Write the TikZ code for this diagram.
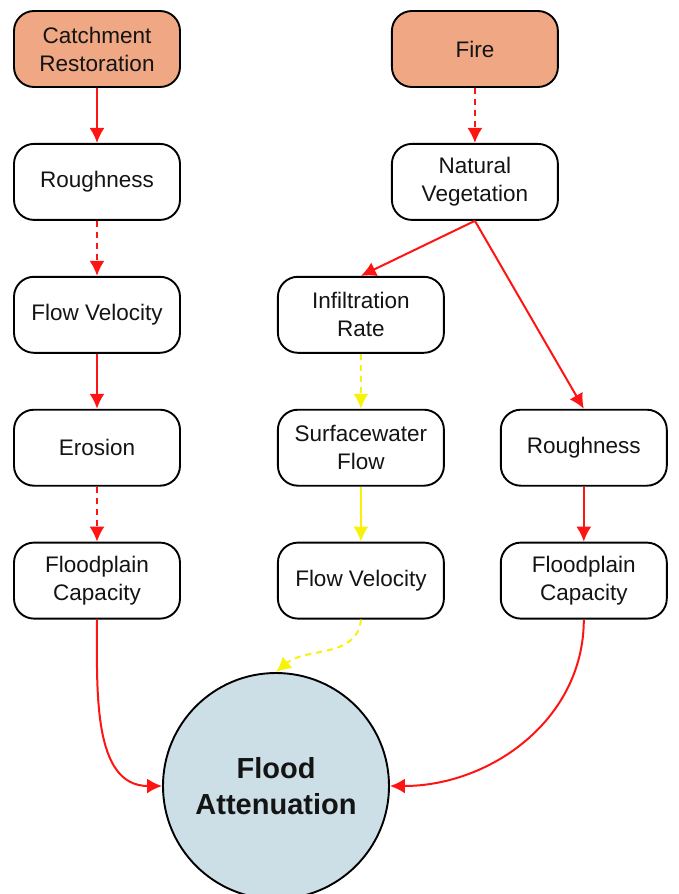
\documentclass[tikz,border=0pt]{standalone}
\usepackage{fontspec}
\setmainfont{Liberation Sans}
\usetikzlibrary{positioning,arrows.meta,shapes}
\definecolor{causefill}{HTML}{F0A784}
\definecolor{floodfill}{HTML}{CCDFE7}
\definecolor{linkred}{HTML}{FF1414}
\definecolor{linkyellow}{HTML}{F7F20A}
\tikzset{
	every node/.style = {font=\fontsize{22.5}{28}\selectfont, align=center, text=black!92},
	factor/.style = {draw, rounded corners=20pt, line width=1.9pt, minimum width=166pt, minimum height=76pt, inner sep=3, fill=white},
	driver/.style = {factor, fill=causefill},
	redlink/.style = {->, draw=linkred, line width=2pt},
	redhint/.style = {redlink, dash pattern=on 6pt off 5pt},
	yellowlink/.style = {->, draw=linkyellow, line width=2pt},
	yellowhint/.style = {yellowlink, dash pattern=on 6pt off 5pt},
	>={Latex[length=15pt,width=15pt]}
}

\begin{document}
\begin{tikzpicture}[x=1pt, y=-1pt, node distance=55pt]
		\useasboundingbox (0,0) rectangle (678,894);
		% left chain
		\node[driver] (restore) at (97,49) {Catchment\\Restoration};
		\node[factor, below=of restore] (roughL) {Roughness};
		\node[factor, below=of roughL] (flowL) {Flow Velocity};
		\node[factor, below=of flowL] (erosion) {Erosion};
		\node[factor, below=of erosion] (capL) {Floodplain\\Capacity};
		% fire chain
		\node[driver, right=210pt of restore] (fire) {Fire};
		\node[factor, below=of fire] (natveg) {Natural\\Vegetation};
		\node[factor, right=96pt of flowL] (infil) {Infiltration\\Rate};
		\node[factor, below=of infil] (surface) {Surfacewater\\Flow};
		\node[factor, below=of surface] (flowM) {Flow Velocity};
		\node[factor, right=55pt of surface] (roughR) {Roughness};
		\node[factor, below=of roughR] (capR) {Floodplain\\Capacity};
		% outcome
		\node[circle, draw, line width=1.9pt, fill=floodfill, minimum size=226pt, font=\fontsize{29}{36}\selectfont\bfseries] (flood) at (276,786) {Flood\\Attenuation};

		\draw[redlink] (restore) -- (roughL);
		\draw[redhint] (roughL) -- (flowL);
		\draw[redlink] (flowL) -- (erosion);
		\draw[redhint] (erosion) -- (capL);
		\draw[redlink] (capL.south) to[out=-90, in=180] (flood.west);

		\draw[redhint] (fire) -- (natveg);
		\draw[redlink] (natveg.south) -- (infil.north);
		\draw[redlink] (natveg.south) -- (roughR.north);
		\draw[yellowhint] (infil) -- (surface);
		\draw[yellowlink] (surface) -- (flowM);
		\draw[yellowhint] (flowM.south) to[out=-95, in=40] (flood.north);
		\draw[redlink] (roughR) -- (capR);
		\draw[redlink] (capR.south) to[out=-90, in=0] (flood.east);
\end{tikzpicture}
\end{document}
